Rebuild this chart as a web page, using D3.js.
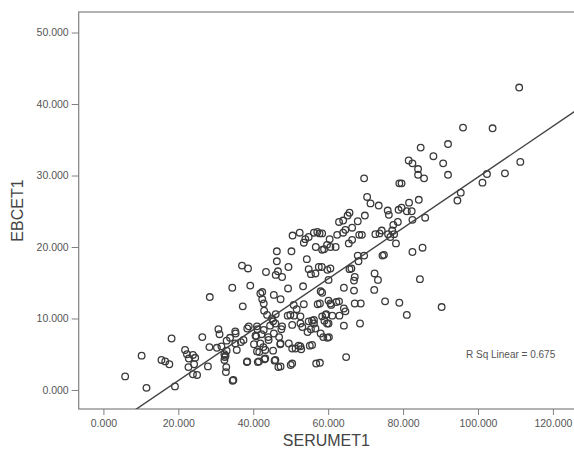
<!DOCTYPE html>
<html>
<head>
<meta charset="utf-8">
<script src="https://cdn.jsdelivr.net/npm/d3@7"></script>
<style>
    body { margin: 0; background: #fff; }
    text { font-family: 'Liberation Sans', Arial, sans-serif; }
</style>
</head>
<body>
<div id="chart"></div>
<script>
// Data (SERUMET1 on x, EBCET1 on y, paired by index)
var serumet1 = [
    5.8, 10.2, 11.5, 15.5, 16.5, 17.6, 18.2, 19.1, 21.8, 22.3, 22.8, 23.9, 24.5, 22.7, 24.2, 23.9, 25.0, 26.4, 27.9, 28.3,
    28.4, 30.7, 31.0, 30.3, 31.5, 32.3, 32.4, 32.3, 32.6, 32.8, 32.7, 32.9, 32.9, 33.8, 34.4, 34.5, 34.7, 35.3, 35.6, 35.2,
    35.2, 36.7, 37.0, 37.2, 38.6, 38.4, 38.3, 39.2, 37.4, 38.4, 38.8,
    40.2, 40.6, 41.1, 40.8, 41.0, 41.2, 41.5, 41.0, 41.6, 41.9, 41.9, 42.4, 42.8, 42.9, 42.4, 42.2, 42.7, 42.8, 43.0, 43.2,
    43.2, 43.4, 43.7, 44.0, 44.1, 44.5, 45.0, 45.3, 45.5, 45.3, 45.5, 45.7, 45.9, 45.9, 46.0, 46.3, 46.3, 46.6, 46.0, 47.7,
    46.7, 47.3, 47.5, 47.2, 46.9, 47.3, 47.3, 47.7, 49.4, 49.3, 49.2, 49.5, 49.9, 50.2, 50.5, 50.0, 50.4, 50.8, 50.4, 50.4,
    50.9, 51.3,
    51.6, 52.1, 52.4, 52.6, 52.6, 52.6, 52.8, 53.1, 53.3, 53.5, 53.5, 53.9, 54.3, 54.5, 54.8, 54.8, 54.8, 55.1, 55.4, 55.4,
    55.7, 56.2, 56.2, 56.7, 56.6, 56.8, 57.1, 57.2, 57.5, 57.7, 57.8, 57.8, 58.0, 58.3, 58.4, 58.4, 58.7, 58.9, 59.0, 59.3,
    59.5, 59.7, 59.8, 59.8, 60.1, 60.1, 60.1, 60.4, 60.6, 60.6, 60.6, 60.8, 61.1, 58.0, 60.2, 56.6, 56.2, 55.7, 58.4, 59.7,
    58.4,
    62.0, 62.2, 62.4, 62.9, 62.9, 63.0, 64.0, 64.0, 64.2, 64.2, 64.2, 64.6, 64.8, 64.6, 65.2, 65.7, 65.5, 65.7, 66.4, 66.4,
    66.9, 67.1, 66.9, 67.1, 66.2, 67.9, 67.9, 68.1, 68.3, 68.5, 68.7, 69.0, 69.6, 69.6, 69.8, 70.4, 71.3, 72.3, 72.4, 72.6,
    73.5, 73.3, 73.7, 74.3, 74.5, 74.9, 75.2, 75.9, 76.0, 76.2, 76.6, 77.1, 77.4, 77.6, 78.1, 79.0, 78.6, 78.8, 79.0, 79.6,
    79.6, 81.0, 81.5, 81.0, 82.5, 81.6, 82.3, 82.5, 82.5, 84.0, 84.0, 84.2, 84.7, 84.5, 85.2, 85.6, 85.9, 88.1, 90.3, 90.7,
    92.0, 92.0, 94.5, 95.4, 96.0, 101.2, 102.4, 103.9, 107.2, 111.0, 111.3
];
var ebcet1 = [
    1.9, 4.8, 0.3, 4.2, 4.0, 3.6, 7.2, 0.5, 5.6, 5.0, 4.4, 4.9, 4.5, 3.2, 3.6, 2.2, 2.1, 7.4, 3.3, 6.0,
    13.0, 8.5, 7.8, 5.9, 6.1, 5.0, 4.6, 4.2, 4.8, 3.2, 2.5, 5.5, 6.9, 7.3, 14.3, 1.3, 1.4, 7.9, 5.6, 8.2,
    6.5, 6.7, 17.4, 11.7, 17.0, 8.6, 3.9, 14.6, 7.0, 4.0, 8.9,
    6.4, 7.6, 8.5, 7.5, 8.9, 3.9, 4.0, 5.4, 5.3, 6.5, 13.5, 12.7, 12.1, 11.1, 13.7, 7.8, 6.0, 8.4, 4.3, 4.4,
    5.6, 16.5, 10.5, 7.4, 7.0, 9.0, 10.0, 9.6, 13.3, 5.5, 7.9, 4.1, 9.3, 4.2, 10.6, 19.4, 18.0, 16.6, 16.1, 15.8,
    3.2, 12.7, 8.5, 6.4, 7.4, 6.5, 3.3, 8.9, 17.2, 14.2, 10.4, 6.5, 10.5, 19.4, 21.6, 3.5, 3.7, 11.9, 9.1, 5.8,
    10.4, 5.8,
    11.3, 6.2, 22.0, 10.3, 9.3, 6.1, 5.7, 8.8, 14.5, 12.0, 20.6, 21.1, 18.3, 8.1, 9.6, 16.9, 21.4, 6.2, 16.2, 8.5,
    9.7, 9.3, 22.0, 20.0, 16.3, 3.7, 22.1, 12.0, 17.2, 21.9, 12.1, 3.8, 13.8, 17.2, 13.6, 10.3, 7.4, 19.7, 9.7, 10.5,
    10.6, 9.3, 7.3, 16.8, 9.3, 15.4, 12.5, 21.1, 20.0, 17.0, 12.1, 11.9, 10.4, 7.9, 7.4, 8.6, 9.8, 6.3, 19.6, 20.3,
    21.9,
    20.0, 12.3, 21.7, 23.5, 12.4, 10.4, 23.7, 22.0, 14.3, 9.0, 11.4, 11.0, 4.6, 22.4, 24.4, 24.8, 20.5, 16.9, 22.7, 21.0,
    15.3, 15.8, 13.9, 12.1, 17.0, 23.6, 18.8, 18.0, 21.7, 9.3, 12.1, 21.7, 29.6, 18.8, 24.4, 27.0, 26.1, 14.0, 16.3, 21.8,
    25.8, 15.4, 21.9, 22.3, 18.8, 18.9, 12.4, 25.1, 21.8, 24.5, 21.4, 22.3, 23.1, 21.8, 20.5, 12.2, 23.5, 25.2, 28.9, 28.9,
    25.5, 10.5, 32.1, 25.0, 31.7, 26.2, 25.0, 23.8, 19.3, 30.9, 30.1, 26.6, 33.9, 15.5, 19.9, 29.6, 24.1, 32.7, 11.6, 31.7,
    34.4, 30.1, 26.5, 27.6, 36.7, 29.0, 30.2, 36.6, 30.3, 42.3, 31.9
];
var xTicks = [0, 20, 40, 60, 80, 100, 120];
var yTicks = [0, 10, 20, 30, 40, 50];
var xLimits = [-6.6, 125.9];
var yLimits = [-2.66, 52.87];
var xTitle = 'SERUMET1';
var yTitle = 'EBCET1';
var rSquare = 0.675;

function drawChart() {
    // Chart size and plot frame
    var width = 574, height = 461;
    var pLeft = 78.7, pTop = 12, pRight = 575, pBottom = 409;
    var axisColor = '#808080', textColor = '#555';

    var points = serumet1.map(function(d, i) { return { x: d, y: ebcet1[i] }; });

    // Least squares fit
    var mx = d3.mean(points, function(d) { return d.x; });
    var my = d3.mean(points, function(d) { return d.y; });
    var sxy = d3.sum(points, function(d) { return (d.x - mx) * (d.y - my); });
    var sxx = d3.sum(points, function(d) { return (d.x - mx) * (d.x - mx); });
    var slope = sxy / sxx;
    var intercept = my - slope * mx;

    var x = d3.scaleLinear().domain(xLimits).range([pLeft, pRight]);
    var y = d3.scaleLinear().domain(yLimits).range([pBottom, pTop]);

    var svg = d3.select('#chart')
        .append('svg')
        .attr('width', width)
        .attr('height', height);

    svg.append('defs').append('clipPath')
        .attr('id', 'plotClip')
        .append('rect')
        .attr('x', pLeft)
        .attr('y', pTop)
        .attr('width', pRight - pLeft)
        .attr('height', pBottom - pTop);

    // X axis
    var xAxis = svg.append('g')
        .attr('transform', 'translate(0,' + pBottom + ')')
        .call(d3.axisBottom(x).tickValues(xTicks).tickFormat(d3.format('.3f')).tickSize(6).tickPadding(5));

    // Y axis
    var yAxis = svg.append('g')
        .attr('transform', 'translate(' + pLeft + ',0)')
        .call(d3.axisLeft(y).tickValues(yTicks).tickFormat(d3.format('.3f')).tickSize(7).tickPadding(3));

    [xAxis, yAxis].forEach(function(a) {
        a.select('.domain').remove();
        a.selectAll('line').attr('stroke', axisColor);
        a.selectAll('text')
            .style('font-size', '10.5px')
            .style('font-family', "'Liberation Sans', Arial, sans-serif")
            .attr('fill', textColor);
    });

    // Plot frame
    svg.append('rect')
        .attr('x', pLeft)
        .attr('y', pTop)
        .attr('width', pRight - pLeft)
        .attr('height', pBottom - pTop)
        .attr('fill', 'none')
        .attr('stroke', axisColor)
        .attr('stroke-width', 1.2);

    // Scatter points
    svg.append('g')
        .selectAll('circle')
        .data(points)
        .enter()
        .append('circle')
        .attr('cx', function(d) { return x(d.x); })
        .attr('cy', function(d) { return y(d.y); })
        .attr('r', 3.3)
        .attr('fill', 'none')
        .attr('stroke', '#3a3a3a')
        .attr('stroke-width', 1.3);

    // Fit line
    svg.append('line')
        .attr('clip-path', 'url(#plotClip)')
        .attr('x1', x(xLimits[0]))
        .attr('y1', y(intercept + slope * xLimits[0]))
        .attr('x2', x(xLimits[1]))
        .attr('y2', y(intercept + slope * xLimits[1]))
        .attr('stroke', '#444')
        .attr('stroke-width', 1.4);

    // R square label
    svg.append('text')
        .attr('x', 466)
        .attr('y', 358)
        .style('font-size', '10px')
        .attr('fill', textColor)
        .text('R Sq Linear = ' + d3.format('.3f')(rSquare));

    // Axis titles
    svg.append('text')
        .attr('x', (pLeft + width) / 2)
        .attr('y', 446)
        .attr('text-anchor', 'middle')
        .style('font-size', '16px')
        .attr('fill', '#444')
        .text(xTitle);

    svg.append('text')
        .attr('transform', 'translate(23,' + ((pTop + pBottom) / 2) + ') rotate(-90)')
        .attr('text-anchor', 'middle')
        .style('font-size', '16px')
        .attr('fill', '#444')
        .text(yTitle);
}

drawChart();
</script>
</body>
</html>
